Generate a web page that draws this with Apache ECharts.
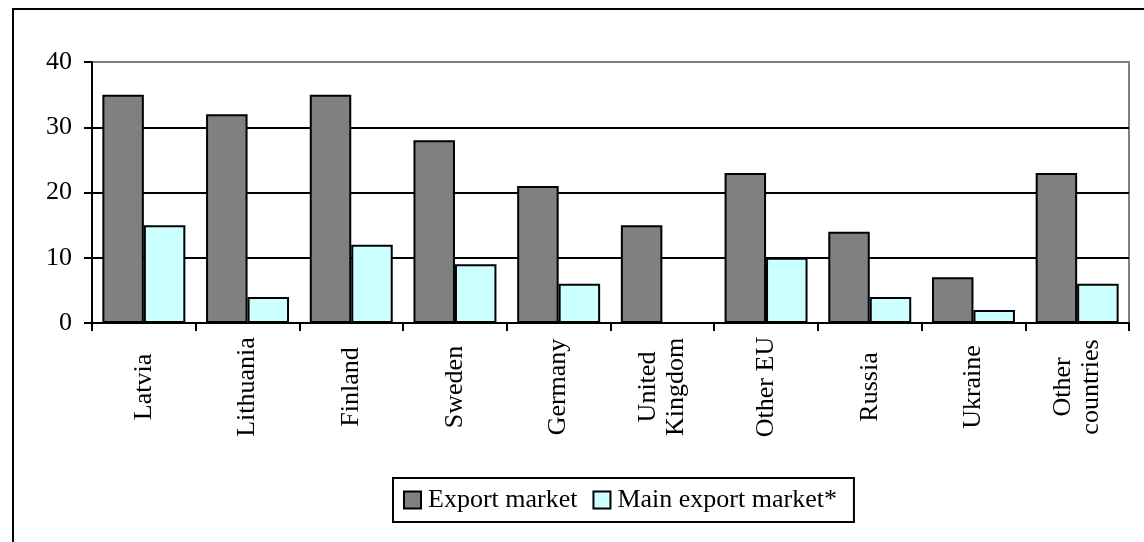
<!DOCTYPE html>
<html>
<head>
<meta charset="utf-8">
<script src="https://cdn.jsdelivr.net/npm/echarts@6/dist/echarts.min.js"></script>
<style>
  html, body { margin: 0; padding: 0; background: #fff; }
  #chart { width: 1144px; height: 542px; }
</style>
</head>
<body>
<div id="chart"></div>
<script>
// Markets by country: share of firms naming each as an export market / main export market
const categories = ['Latvia', 'Lithuania', 'Finland', 'Sweden', 'Germany', 'United\nKingdom', 'Other EU', 'Russia', 'Ukraine', 'Other\ncountries'];
const exportMarket = [35, 32, 35, 28, 21, 15, 23, 14, 7, 23];
const mainExportMarket = [15, 4, 12, 9, 6, 0, 10, 4, 2, 6];
const seriesNames = ['Export market', 'Main export market*'];
const yTicks = { min: 0, max: 40, interval: 10 };

const FONT = '"Liberation Serif", "Times New Roman", serif';

const chart = echarts.init(document.getElementById('chart'), null, { renderer: 'canvas' });

chart.setOption({
  backgroundColor: '#ffffff',
  animation: false,
  textStyle: { fontFamily: FONT, color: '#000' },
  // outer frame lines along the top and left edges
  graphic: [{
    type: 'polyline',
    shape: { points: [[13, 542], [13, 9], [1144, 9]] },
    style: { stroke: '#000', lineWidth: 2, fill: null }
  }],
  grid: {
    left: 92, right: 15, top: 62, bottom: 219,
    show: true, borderColor: '#808080', borderWidth: 2, backgroundColor: 'transparent'
  },
  legend: {
    data: seriesNames,
    left: 393, top: 478,
    orient: 'horizontal',
    icon: 'rect',
    itemWidth: 17, itemHeight: 17,
    itemGap: 15,
    padding: [9, 17, 9, 10],
    borderColor: '#000', borderWidth: 2,
    textStyle: { fontFamily: FONT, fontSize: 26, color: '#000', padding: [0, 0, 0, 2] }
  },
  xAxis: {
    type: 'category',
    data: categories,
    boundaryGap: true,
    axisLine: { lineStyle: { color: '#000', width: 2 } },
    axisTick: { show: true, inside: false, length: 8, lineStyle: { color: '#000', width: 2 } },
    axisLabel: {
      interval: 0,
      rotate: 90,
      align: 'center',
      verticalAlign: 'middle',
      margin: 64,
      fontFamily: FONT, fontSize: 26, color: '#000', lineHeight: 28
    },
    splitLine: { show: false }
  },
  yAxis: {
    type: 'value',
    min: yTicks.min, max: yTicks.max, interval: yTicks.interval,
    axisLine: { show: true, lineStyle: { color: '#000', width: 2 } },
    axisTick: { show: true, inside: false, length: 8, lineStyle: { color: '#000', width: 2 } },
    axisLabel: { margin: 20, fontFamily: FONT, fontSize: 26, color: '#000' },
    splitLine: { show: true, lineStyle: { color: ['#000', '#000', '#000', '#000', '#808080'], width: 2 } }
  },
  series: [
    {
      name: seriesNames[0],
      type: 'bar',
      data: exportMarket,
      barCategoryGap: '20%',
      barGap: '0%',
      itemStyle: { color: '#808080', borderColor: '#000', borderWidth: 2 }
    },
    {
      name: seriesNames[1],
      type: 'bar',
      data: mainExportMarket,
      barCategoryGap: '20%',
      barGap: '0%',
      itemStyle: { color: '#ccffff', borderColor: '#000', borderWidth: 2 }
    }
  ]
});
</script>
</body>
</html>
